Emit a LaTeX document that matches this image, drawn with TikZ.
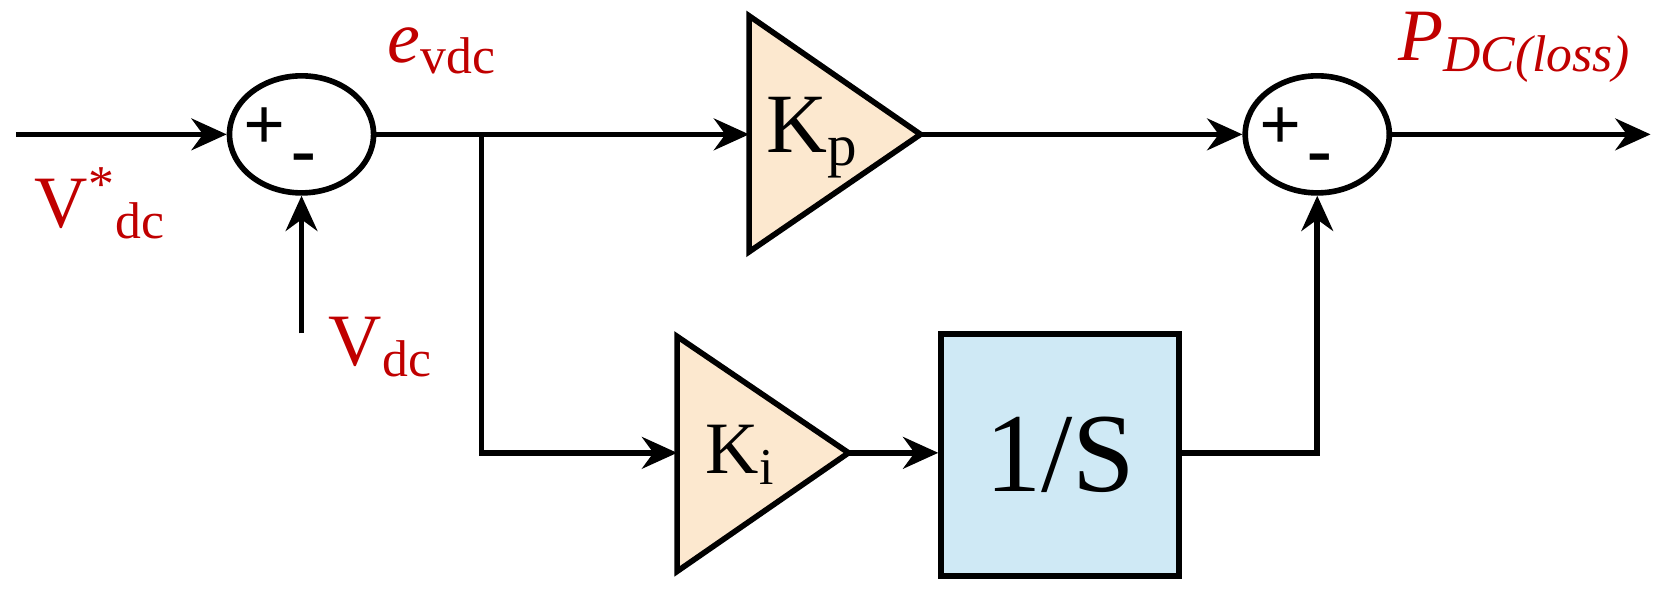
\documentclass[tikz,border=0pt]{standalone}
\usepackage{fontspec}
\setmainfont{Liberation Serif}
\usetikzlibrary{arrows.meta,shapes.geometric}
\definecolor{lblred}{HTML}{C00000}
\definecolor{gainfill}{HTML}{FCE8CF}
\definecolor{boxfill}{HTML}{CFE9F5}
\begin{document}
\begin{tikzpicture}[x=0.01058cm,y=-0.01058cm,
  line width=1.6pt,
  arr/.style={-{Stealth[length=10pt,width=9pt]}},
  sumnode/.style={ellipse,draw,minimum width=1.44cm,minimum height=1.17cm,inner sep=0pt,line width=1.6pt},
  lbl/.style={text=lblred,font=\fontsize{21}{23}\selectfont},
  sgn/.style={font=\fontsize{21}{23}\selectfont\bfseries}]
\useasboundingbox (0,0) rectangle (1568,560);
% sums
\node[sumnode] (s1) at (285,127) {};
\node[sumnode] (s2) at (1245,127) {};
\node[sgn] at (250,122) {+};
\node[sgn] at (287,155) {-};
\node[sgn] at (1210,122) {+};
\node[sgn] at (1247,155) {-};
% gains
\draw[fill=gainfill] (708,15) -- (870,127) coordinate (kpo) -- (708,238) -- cycle;
\coordinate (kpi) at (708,127);
\node[font=\fontsize{24}{26}\selectfont] (kp) at (768,130) {K\textsubscript{p}};
\draw[fill=gainfill] (640,318) -- (802,428) coordinate (kio) -- (640,540) -- cycle;
\coordinate (kii) at (640,428);
\node[font=\fontsize{21}{23}\selectfont] (ki) at (700,430) {K\textsubscript{i}};
% integrator
\node[draw,fill=boxfill,minimum width=2.38cm,minimum height=2.42cm,inner sep=0pt,font=\fontsize{32}{34}\selectfont] (int) at (1002,430) {1/S};
% inputs
\coordinate (in) at (15,127);
\coordinate (vdc) at (285,315);
\coordinate (br) at (455,127);
\coordinate (out) at (1560,127);
\draw[arr] (in) -- (s1.west);
\draw[arr] (vdc) -- (s1.south);
\draw[arr] (s1.east) -- (kpi);
\draw[arr] (br) |- (kii);
\draw[arr] (kio) -- (int.west |- kio);
\draw[arr] (kpo) -- (s2.west);
\draw[arr] (int.east |- kio) -| (s2.south);
\draw[arr] (s2.east) -- (out);
% labels
\node[lbl] at (95,192) {V\textsuperscript{*}\textsubscript{dc}};
\node[lbl] at (360,328) {V\textsubscript{dc}};
\node[lbl] at (418,48) {\textit{e}\textsubscript{vdc}};
\node[lbl] at (1432,45) {\textit{P\textsubscript{DC(loss)}}};
\end{tikzpicture}
\end{document}
